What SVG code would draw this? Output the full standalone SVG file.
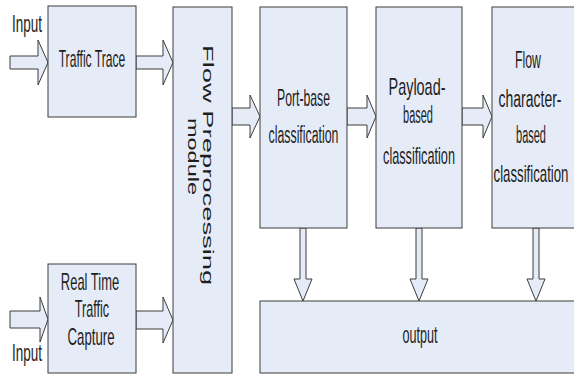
<svg xmlns="http://www.w3.org/2000/svg" width="574" height="375" viewBox="0 0 574 375">
  <style>
    .box { fill: #e6ecf7; stroke: #3c3c3c; stroke-width: 1; }
    .arrow { fill: #e6ecf7; stroke: #3c3c3c; stroke-width: 1; stroke-linejoin: miter; }
    .lbl { font-family: "Liberation Sans", Arial, sans-serif; font-size: 23px; fill: #1e1e1e; text-anchor: middle; }
    .rot { font-family: "Liberation Sans", Arial, sans-serif; font-size: 15.5px; fill: #1e1e1e; }
  </style>
  <rect width="574" height="375" fill="#ffffff"/>

  <!-- connectors: block arrows -->
  <g id="connectors">
    <!-- input into Traffic Trace -->
    <polygon class="arrow" points="10,56 38,56 38,40 48,62.5 38,85 38,69 10,69"/>
    <!-- input into Real Time Traffic Capture -->
    <polygon class="arrow" points="10,311 40,311 40,297 48,319.5 40,342 40,328 10,328"/>
    <!-- Traffic Trace to preprocessing -->
    <polygon class="arrow" points="136,56 163,56 163,40 173,62.5 163,85 163,69 136,69"/>
    <!-- Real Time capture to preprocessing -->
    <polygon class="arrow" points="136,311 163,311 163,297 173,320 163,343 163,329 136,329"/>
    <!-- preprocessing to port-base -->
    <polygon class="arrow" points="232,108 250,108 250,95 260,116.5 250,138 250,125 232,125"/>
    <!-- port-base to payload -->
    <polygon class="arrow" points="347,108 367,108 367,95 376,116.5 367,138 367,125 347,125"/>
    <!-- payload to flow character -->
    <polygon class="arrow" points="462,108 483,108 483,95 492,116.5 483,138 483,125 462,125"/>
    <!-- classifiers down to output -->
    <polygon class="arrow" points="300,228 306,228 306,279 312,279 303,301 294,279 300,279"/>
    <polygon class="arrow" points="416,228 422,228 422,279 428,279 419,301 410,279 416,279"/>
    <polygon class="arrow" points="533,228 539,228 539,279 545,279 536,301 527,279 533,279"/>
  </g>

  <!-- input labels (narrow lettering via horizontal scale) -->
  <g id="input-top">
    <text class="lbl" transform="translate(27,32) scale(0.587,1)">Input</text>
  </g>
  <g id="input-bottom">
    <text class="lbl" transform="translate(27,361) scale(0.587,1)">Input</text>
  </g>

  <g id="traffic-trace">
    <rect class="box" x="48" y="6" width="88" height="111"/>
    <text class="lbl" transform="translate(92,67) scale(0.527,1)">Traffic Trace</text>
  </g>

  <g id="real-time-capture">
    <rect class="box" x="48" y="264" width="88" height="109"/>
    <text class="lbl" transform="translate(90,290) scale(0.563,1)">Real Time</text>
    <text class="lbl" transform="translate(92,317) scale(0.548,1)">Traffic</text>
    <text class="lbl" transform="translate(91,345) scale(0.575,1)">Capture</text>
  </g>

  <g id="flow-preprocessing">
    <rect class="box" x="173" y="7" width="59" height="366"/>
    <text class="rot" transform="translate(203,45) rotate(90) scale(1.766,1)">Flow  Preprocessing</text>
    <text class="rot" transform="translate(188,118) rotate(90) scale(1.515,1)">module</text>
  </g>

  <g id="port-base">
    <rect class="box" x="260" y="7" width="87" height="221"/>
    <text class="lbl" transform="translate(303.5,106) scale(0.532,1)">Port-base</text>
    <text class="lbl" transform="translate(303.5,143) scale(0.537,1)">classification</text>
  </g>

  <g id="payload-based">
    <rect class="box" x="376" y="7" width="86" height="221"/>
    <text class="lbl" transform="translate(417,95) scale(0.628,1)">Payload-</text>
    <text class="lbl" transform="translate(418,123) scale(0.478,1)">based</text>
    <text class="lbl" transform="translate(419,164) scale(0.552,1)">classification</text>
  </g>

  <g id="flow-character-based">
    <rect class="box" x="492" y="7" width="83" height="221"/>
    <text class="lbl" transform="translate(528,68) scale(0.535,1)">Flow</text>
    <text class="lbl" transform="translate(530,107) scale(0.609,1)">character-</text>
    <text class="lbl" transform="translate(531,143) scale(0.478,1)">based</text>
    <text class="lbl" transform="translate(531,182) scale(0.575,1)">classification</text>
  </g>

  <g id="output">
    <rect class="box" x="260" y="301" width="315" height="72"/>
    <text class="lbl" transform="translate(420,343) scale(0.548,1)">output</text>
  </g>
</svg>
